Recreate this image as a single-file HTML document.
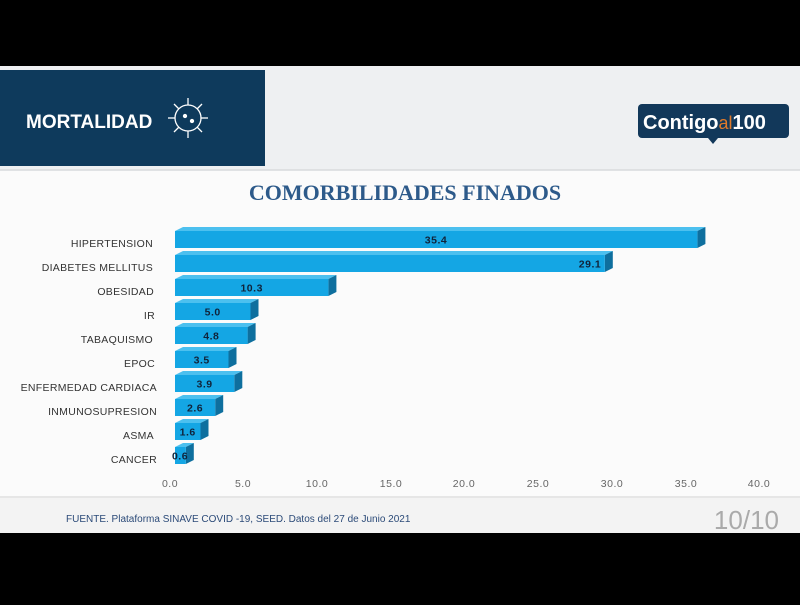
<!DOCTYPE html>
<html><head><meta charset="utf-8"><style>
body{margin:0;width:800px;height:600px;background:#000;overflow:hidden;font-family:"Liberation Sans",sans-serif}
</style></head><body>
<svg width="800" height="600" viewBox="0 0 800 600" xmlns="http://www.w3.org/2000/svg" font-family="Liberation Sans, sans-serif">
<rect x="0" y="0" width="800" height="600" fill="#000"/>
<rect x="0" y="66" width="800" height="467" fill="#fbfbfb"/>
<rect x="0" y="66" width="800" height="104" fill="#eef0f2"/>
<line x1="0" y1="170" x2="800" y2="170" stroke="#d8dadd" stroke-width="1.5"/>
<rect x="0" y="70" width="265" height="96" fill="#0e3a5c"/>
<text x="26" y="128" font-size="19" font-weight="bold" fill="#fff">MORTALIDAD</text>
<g stroke="#fff" stroke-width="1.3" fill="none" transform="translate(188,118)">
<circle r="13"/>
<line x1="0" y1="-13" x2="0" y2="-20"/><line x1="0" y1="13" x2="0" y2="20"/>
<line x1="-13" y1="0" x2="-20" y2="0"/><line x1="13" y1="0" x2="20" y2="0"/>
<line x1="9" y1="-9" x2="14" y2="-14"/><line x1="-9" y1="-9" x2="-14" y2="-14"/>
<line x1="9" y1="9" x2="14" y2="14"/><line x1="-9" y1="9" x2="-14" y2="14"/>
<circle r="1.5" fill="#fff" cx="-3" cy="-2"/><circle r="1.5" fill="#fff" cx="4" cy="3"/>
</g>
<rect x="638" y="104" width="151" height="34" rx="4" fill="#12385a"/>
<polygon points="708,138 718,138 713,144" fill="#12385a"/>
<text x="643" y="129" font-size="20" font-weight="bold" fill="#fff">Contigo<tspan fill="#e07a2a" font-weight="normal" font-size="18">al</tspan>100</text>
<text x="405" y="200" text-anchor="middle" font-family="Liberation Serif, serif" font-size="22" font-weight="bold" fill="#2d5a8a">COMORBILIDADES FINADOS</text>
<g font-size="10.5" fill="#333" text-anchor="end" letter-spacing="0.3">
<text x="153" y="247">HIPERTENSION</text>
<text x="153" y="271">DIABETES MELLITUS</text>
<text x="154" y="295">OBESIDAD</text>
<text x="155" y="319">IR</text>
<text x="153" y="343">TABAQUISMO</text>
<text x="155" y="367">EPOC</text>
<text x="157" y="391">ENFERMEDAD CARDIACA</text>
<text x="157" y="415">INMUNOSUPRESION</text>
<text x="154" y="439">ASMA</text>
<text x="157" y="463">CANCER</text>
</g>
<g font-size="10.5" font-weight="bold" fill="#10233a" text-anchor="middle" letter-spacing="0.5">
<g transform="translate(175,231)"><polygon points="0,0 8,-4 530.4,-4 522.4,0" fill="#4cc0ef"/><polygon points="522.4,0 530.4,-4 530.4,13 522.4,17" fill="#0e6f9e"/><rect width="522.4" height="17" fill="#14a6e4"/><text x="261" y="12.5">35.4</text></g>
<g transform="translate(175,255)"><polygon points="0,0 8,-4 437.8,-4 429.8,0" fill="#4cc0ef"/><polygon points="429.8,0 437.8,-4 437.8,13 429.8,17" fill="#0e6f9e"/><rect width="429.8" height="17" fill="#14a6e4"/><text x="415" y="12.5">29.1</text></g>
<g transform="translate(175,279)"><polygon points="0,0 8,-4 161.4,-4 153.4,0" fill="#4cc0ef"/><polygon points="153.4,0 161.4,-4 161.4,13 153.4,17" fill="#0e6f9e"/><rect width="153.4" height="17" fill="#14a6e4"/><text x="76.7" y="12.5">10.3</text></g>
<g transform="translate(175,303)"><polygon points="0,0 8,-4 83.5,-4 75.5,0" fill="#4cc0ef"/><polygon points="75.5,0 83.5,-4 83.5,13 75.5,17" fill="#0e6f9e"/><rect width="75.5" height="17" fill="#14a6e4"/><text x="37.7" y="12.5">5.0</text></g>
<g transform="translate(175,327)"><polygon points="0,0 8,-4 80.6,-4 72.6,0" fill="#4cc0ef"/><polygon points="72.6,0 80.6,-4 80.6,13 72.6,17" fill="#0e6f9e"/><rect width="72.6" height="17" fill="#14a6e4"/><text x="36.3" y="12.5">4.8</text></g>
<g transform="translate(175,351)"><polygon points="0,0 8,-4 61.5,-4 53.5,0" fill="#4cc0ef"/><polygon points="53.5,0 61.5,-4 61.5,13 53.5,17" fill="#0e6f9e"/><rect width="53.5" height="17" fill="#14a6e4"/><text x="26.7" y="12.5">3.5</text></g>
<g transform="translate(175,375)"><polygon points="0,0 8,-4 67.3,-4 59.3,0" fill="#4cc0ef"/><polygon points="59.3,0 67.3,-4 67.3,13 59.3,17" fill="#0e6f9e"/><rect width="59.3" height="17" fill="#14a6e4"/><text x="29.6" y="12.5">3.9</text></g>
<g transform="translate(175,399)"><polygon points="0,0 8,-4 48.2,-4 40.2,0" fill="#4cc0ef"/><polygon points="40.2,0 48.2,-4 48.2,13 40.2,17" fill="#0e6f9e"/><rect width="40.2" height="17" fill="#14a6e4"/><text x="20.1" y="12.5">2.6</text></g>
<g transform="translate(175,423)"><polygon points="0,0 8,-4 33.5,-4 25.5,0" fill="#4cc0ef"/><polygon points="25.5,0 33.5,-4 33.5,13 25.5,17" fill="#0e6f9e"/><rect width="25.5" height="17" fill="#14a6e4"/><text x="12.7" y="12.5">1.6</text></g>
<g transform="translate(175,447)"><polygon points="0,0 8,-4 18.8,-4 10.8,0" fill="#4cc0ef"/><polygon points="10.8,0 18.8,-4 18.8,13 10.8,17" fill="#0e6f9e"/><rect width="10.8" height="17" fill="#14a6e4"/><text x="5" y="12.5">0.6</text></g>
</g>
<g font-size="10.5" fill="#666" text-anchor="middle" letter-spacing="0.5">
<text x="170" y="487">0.0</text><text x="243" y="487">5.0</text><text x="317" y="487">10.0</text>
<text x="391" y="487">15.0</text><text x="464" y="487">20.0</text><text x="538" y="487">25.0</text>
<text x="612" y="487">30.0</text><text x="686" y="487">35.0</text><text x="759" y="487">40.0</text>
</g>
<line x1="0" y1="497" x2="800" y2="497" stroke="#e0e0e0" stroke-width="1.5"/>
<rect x="0" y="498" width="800" height="35" fill="#f3f3f3"/>
<text x="66" y="522" font-size="10" fill="#2b4a78">FUENTE. Plataforma SINAVE COVID -19, SEED. Datos del 27 de Junio 2021</text>
<text x="779" y="529" text-anchor="end" font-size="26" fill="#aaa">10/10</text>
</svg>
</body></html>
